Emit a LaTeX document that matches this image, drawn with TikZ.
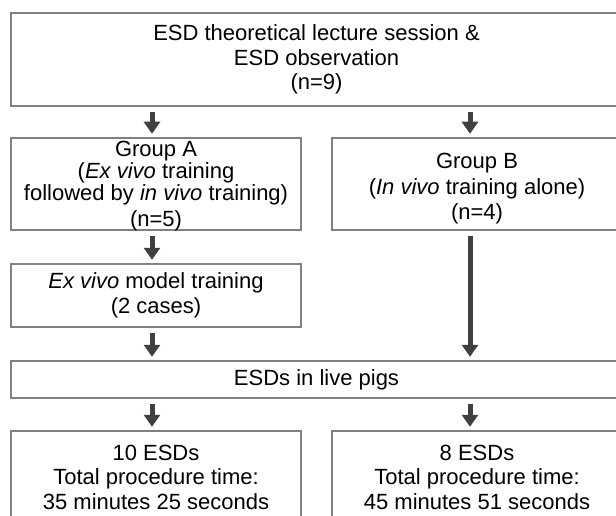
\documentclass[tikz,border=0pt]{standalone}
\usepackage{fontspec}
\setmainfont{Liberation Sans}
\usetikzlibrary{arrows.meta}
\definecolor{boxgray}{RGB}{128,128,128}
\definecolor{arrgray}{RGB}{64,64,64}
\newcommand{\lowerby}[2]{\raisebox{-#1}[\height][\depth]{\begin{tabular}{@{}c@{}}#2\end{tabular}}}
\begin{document}
\begin{tikzpicture}[x=1pt,y=-1pt,
  box/.style={draw=boxgray, line width=1.5pt, align=center, inner sep=0pt,
    font=\fontsize{22}{24.5}\selectfont},
  arr/.style={draw=arrgray, line width=5pt, -{Triangle[width=16pt,length=12pt]},
    shorten <=5pt, shorten >=3.5pt}]
\useasboundingbox (0,0) rectangle (616,516);
\coordinate (lx) at (152,0);
\coordinate (rx) at (470,0);
\node[box, minimum width=611pt, minimum height=93pt] (top) at (316.5,59.5)
  {ESD theoretical lecture session \&\\ESD observation\\(n=9)};
\node[box, minimum width=290pt, minimum height=92pt,
  font=\fontsize{22}{20.5}\selectfont] (ga) at (156,184)
  {\lowerby{3pt}{Group A\\(\textit{Ex vivo} training\\followed by \textit{in vivo} training)\\[4pt](n=5)}};
\node[box, minimum width=290pt, minimum height=92pt,
  font=\fontsize{22}{25.5}\selectfont] (gb) at (477,184)
  {\lowerby{5pt}{Group B\\(\textit{In vivo} training alone)\\(n=4)}};
\node[box, minimum width=290pt, minimum height=63pt] (ex) at (156,295.5)
  {\textit{Ex vivo} model training\\(2 cases)};
\node[box, minimum width=611pt, minimum height=37pt] (live) at (316.5,379.5)
  {ESDs in live pigs};
\node[box, minimum width=290pt, minimum height=92pt] (bl) at (156,477)
  {10 ESDs\\Total procedure time:\\35 minutes 25 seconds};
\node[box, minimum width=290pt, minimum height=92pt] (br) at (477,477)
  {8 ESDs\\Total procedure time:\\45 minutes 51 seconds};
\draw[arr] (top.south -| lx) -- (ga.north -| lx);
\draw[arr] (top.south -| rx) -- (gb.north -| rx);
\draw[arr] (ga.south -| lx) -- (ex.north -| lx);
\draw[arr] (ex.south -| lx) -- (live.north -| lx);
\draw[arr] (gb.south -| rx) -- (live.north -| rx);
\draw[arr] (live.south -| lx) -- (bl.north -| lx);
\draw[arr] (live.south -| rx) -- (br.north -| rx);
\end{tikzpicture}
\end{document}
